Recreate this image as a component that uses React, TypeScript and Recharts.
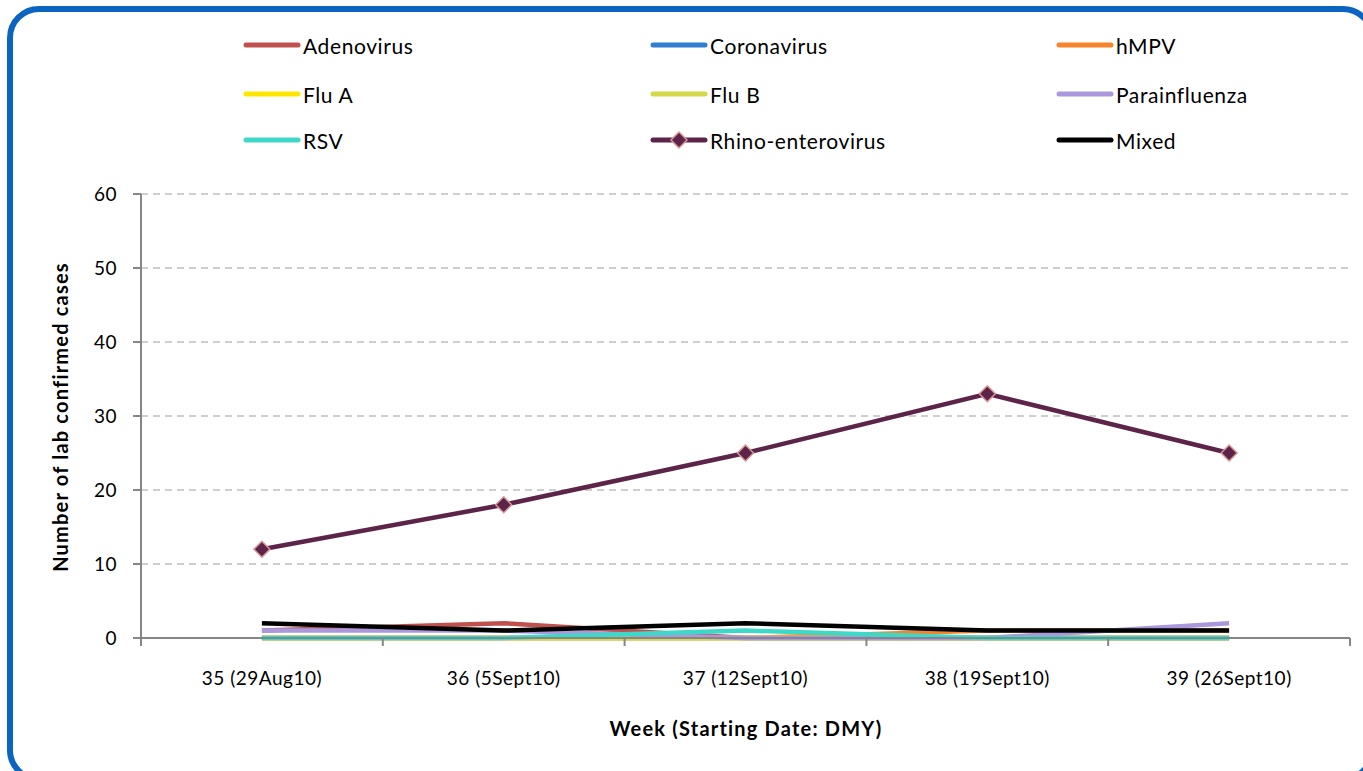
import React from "react";
import { CartesianGrid, Line, LineChart, XAxis, YAxis } from "recharts";

const weeks = ["35 (29Aug10)", "36 (5Sept10)", "37 (12Sept10)", "38 (19Sept10)", "39 (26Sept10)"];

const adenovirus = [1, 2, 0, 0, 0];
const coronavirus = [0, 0, 0, 0, 0];
const hmpv = [0, 0, 0, 1, 1];
const fluA = [0, 0, 0, 0, 0];
const fluB = [0, 0, 0, 0, 0];
const parainfluenza = [1, 1, 0, 0, 2];
const rsv = [0, 0, 1, 0, 0];
const rhino = [12, 18, 25, 33, 25];
const mixed = [2, 1, 2, 1, 1];

const yTicks = [0, 10, 20, 30, 40, 50, 60];
const xTicks = [-0.5, 0, 0.5, 1, 1.5, 2, 2.5, 3, 3.5, 4, 4.5];

const series = [
  { key: "adenovirus", name: "Adenovirus", color: "#c0504d", values: adenovirus },
  { key: "coronavirus", name: "Coronavirus", color: "#2f7ed0", values: coronavirus },
  { key: "hmpv", name: "hMPV", color: "#f7842a", values: hmpv },
  { key: "fluA", name: "Flu A", color: "#ffe600", values: fluA },
  { key: "fluB", name: "Flu B", color: "#d2da4a", values: fluB },
  { key: "parainfluenza", name: "Parainfluenza", color: "#ab97dc", values: parainfluenza },
  { key: "rsv", name: "RSV", color: "#3dd8c8", values: rsv },
  { key: "rhino", name: "Rhino-enterovirus", color: "#5c2448", values: rhino },
  { key: "mixed", name: "Mixed", color: "#000000", values: mixed },
];

const data = weeks.map((w, i) => {
  const row: Record<string, number | string> = { idx: i, week: w };
  series.forEach((s) => (row[s.key] = s.values[i]));
  return row;
});

const FONT = "Lato, 'Noto Sans', sans-serif";

const Diamond = (props: { cx?: number; cy?: number }) => {
  const { cx, cy } = props;
  if (cx == null || cy == null) return null;
  const r = 8;
  return (
    <path
      d={`M${cx},${cy - r}L${cx + r},${cy}L${cx},${cy + r}L${cx - r},${cy}Z`}
      fill="#5c2448"
      stroke="#d99694"
      strokeWidth={1.5}
    />
  );
};

const WeekTick = (props: { x?: number; y?: number; payload?: { value: number } }) => {
  const { x = 0, y = 0, payload } = props;
  const v = payload ? payload.value : 0;
  if (Number.isInteger(v)) {
    return (
      <text
        x={x}
        y={y + 47}
        textAnchor="middle"
        fontSize={19}
        letterSpacing={0.5}
        fill="#000"
        fontFamily={FONT}
      >
        {weeks[v]}
      </text>
    );
  }
  return <line x1={x} x2={x} y1={y} y2={y + 8} stroke="#868686" strokeWidth={2} />;
};

// legend laid out like the original: 3 columns x 3 rows
const legendCols = [243, 650, 1056];
const legendRows = [45, 94, 140];

function ChartLegend() {
  return (
    <>
      {series.map((s, i) => {
        const x = legendCols[i % 3];
        const y = legendRows[Math.floor(i / 3)];
        return (
          <div
            key={s.key}
            style={{ position: "absolute", left: x, top: y - 14, height: 28, display: "flex", alignItems: "center" }}
          >
            <svg width={58} height={20} style={{ display: "block" }}>
              <line x1={3} x2={55} y1={10} y2={10} stroke={s.color} strokeWidth={5} strokeLinecap="round" />
              {s.key === "rhino" && <Diamond cx={29} cy={10} />}
            </svg>
            <span style={{ fontFamily: FONT, fontSize: 21, letterSpacing: 0.6, color: "#000", marginLeft: 2 }}>
              {s.name}
            </span>
          </div>
        );
      })}
    </>
  );
}

export default function App() {
  return (
    <div style={{ position: "absolute", left: 0, top: 0, width: 1363, height: 771, overflow: "hidden", background: "#fff" }}>
      <div
        style={{
          position: "absolute",
          left: 7,
          top: 6,
          width: 1368,
          height: 776,
          border: "6px solid #0a64c0",
          borderRadius: 32,
          boxSizing: "border-box",
        }}
      />
      <ChartLegend />
      <div style={{ position: "absolute", left: 0, top: 0 }}>
        <LineChart width={1363} height={771} data={data} margin={{ top: 194, right: 13, bottom: 73, left: 81 }}>
          <CartesianGrid vertical={false} stroke="#bfbfbf" strokeDasharray="7 5" strokeWidth={1.5} />
          <XAxis
            type="number"
            dataKey="idx"
            domain={[-0.5, 4.5]}
            ticks={xTicks}
            interval={0}
            height={60}
            tickSize={0}
            tickMargin={0}
            tickLine={false}
            axisLine={{ stroke: "#868686", strokeWidth: 2 }}
            tick={<WeekTick />}
          />
          <YAxis
            domain={[0, 60]}
            ticks={yTicks}
            width={60}
            tickSize={8}
            tickMargin={16}
            interval={0}
            axisLine={{ stroke: "#868686", strokeWidth: 2 }}
            tickLine={{ stroke: "#868686", strokeWidth: 2 }}
            tick={{ fill: "#000", fontSize: 19, fontFamily: FONT, letterSpacing: 0.5 }}
          />
          {series.map((s) => (
            <Line
              key={s.key}
              type="linear"
              dataKey={s.key}
              name={s.name}
              stroke={s.color}
              strokeWidth={4.5}
              dot={s.key === "rhino" ? <Diamond /> : false}
              activeDot={false}
              isAnimationActive={false}
            />
          ))}
        </LineChart>
      </div>
      <div
        style={{
          position: "absolute",
          left: 60,
          top: 417,
          transform: "translate(-50%, -50%) rotate(-90deg)",
          whiteSpace: "nowrap",
          fontFamily: FONT,
          fontWeight: "bold",
          fontSize: 20,
          letterSpacing: 1.2,
        }}
      >
        Number of lab confirmed cases
      </div>
      <div
        style={{
          position: "absolute",
          left: 746,
          top: 728,
          transform: "translate(-50%, -50%)",
          whiteSpace: "nowrap",
          fontFamily: FONT,
          fontWeight: "bold",
          fontSize: 20,
          letterSpacing: 1.2,
        }}
      >
        Week (Starting Date: DMY)
      </div>
    </div>
  );
}
